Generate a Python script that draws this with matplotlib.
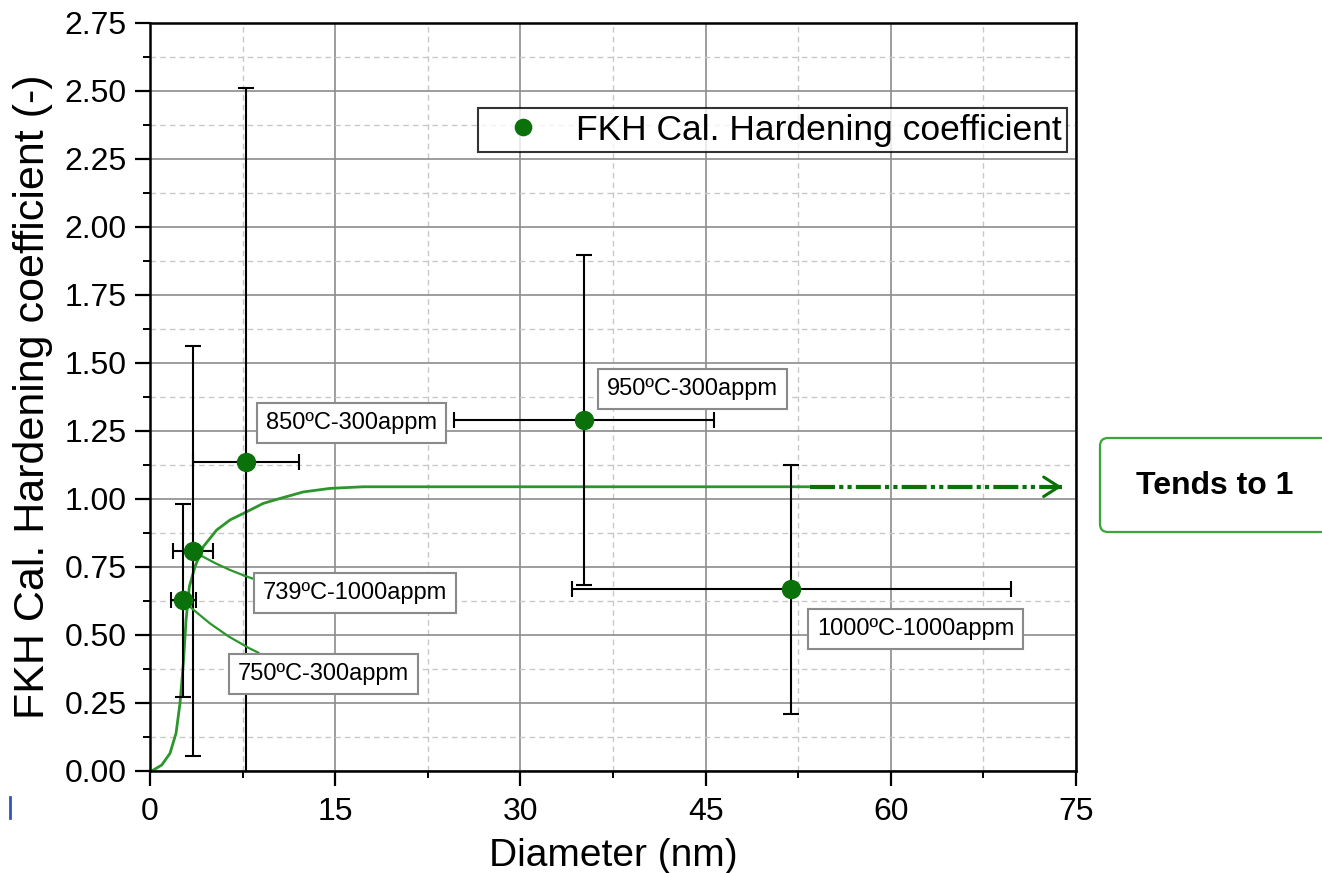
import matplotlib
matplotlib.use("Agg")
import matplotlib.pyplot as plt
from matplotlib.patches import FancyBboxPatch
from matplotlib.lines import Line2D

plt.rcParams['font.family'] = ['Liberation Sans', 'DejaVu Sans']

# Measured samples
sample_labels = ["750ºC-300appm", "739ºC-1000appm", "850ºC-300appm",
                 "950ºC-300appm", "1000ºC-1000appm"]
diameter = [2.70, 3.48, 7.78, 35.15, 51.95]
diameter_err = [1.03, 1.62, 4.29, 10.53, 17.8]
hardening = [0.627, 0.809, 1.137, 1.290, 0.668]
hardening_err = [0.355, 0.755, 1.374, 0.607, 0.458]

# Fitted trend of the hardening coefficient
fit_d = [0.14, 0.95, 1.62, 2.11, 2.43, 2.70, 2.92, 3.19, 3.64, 4.32, 5.40,
         6.48, 7.83, 9.18, 10.53, 12.42, 14.58, 17.28, 53.45]
fit_k = [0.0, 0.022, 0.065, 0.139, 0.249, 0.396, 0.555, 0.678, 0.751, 0.825,
         0.886, 0.923, 0.953, 0.984, 1.002, 1.026, 1.039, 1.045, 1.045]
trend_d = [53.45, 73.85]
trend_k = [1.045, 1.045]

x_ticks = [0, 15, 30, 45, 60, 75]
y_ticks = [0.00, 0.25, 0.50, 0.75, 1.00, 1.25, 1.50, 1.75, 2.00, 2.25, 2.50, 2.75]

GREEN = '#0b720b'
CURVE = '#2c962c'

fig = plt.figure(figsize=(13.22, 8.73), dpi=100)
ax = fig.add_axes([150 / 1322, 1 - 771 / 873, 926 / 1322, 748 / 873])

ax.set_xlim(0, 75)
ax.set_ylim(0, 2.75)
ax.set_xticks(x_ticks)
ax.set_xticks([7.5 + 15 * i for i in range(5)], minor=True)
ax.set_yticks(y_ticks)
ax.set_yticks([0.125 + 0.25 * i for i in range(11)], minor=True)
ax.set_xticklabels([str(t) for t in x_ticks])
ax.set_yticklabels([f"{t:.2f}" for t in y_ticks])

ax.grid(which='major', color='#8c8c8c', lw=1.2, ls='-', zorder=0)
ax.grid(which='minor', color='#c8c8c8', lw=1.0, ls=(0, (4, 3)), zorder=0)
ax.set_axisbelow(True)

for s in ax.spines.values():
    s.set_linewidth(1.8)
    s.set_color('black')
    s.set_zorder(6)

ax.tick_params(which='major', direction='out', length=11, width=1.6,
               labelsize=23, pad=6, top=False, right=False)
ax.tick_params(which='minor', direction='out', length=5, width=1.4,
               top=False, right=False)
ax.tick_params(axis='x', which='major', pad=8)

ax.set_xlabel("Diameter (nm)", fontsize=28, labelpad=8)
ax.set_ylabel("FKH Cal. Hardening coefficient (-)", fontsize=31, labelpad=8)

# Fitted curve and its asymptote
ax.plot(fit_d, fit_k, color=CURVE, lw=2.0, zorder=2, solid_capstyle='butt')
ax.plot(trend_d, trend_k, color=GREEN, lw=3.0, zorder=2,
        dashes=(6.0, 1.0, 1.0, 1.0, 1.0, 1.0))
ax.annotate('', xy=(trend_d[1], trend_k[1]), xytext=(trend_d[1] - 1.0, trend_k[1]),
            arrowprops=dict(arrowstyle='->,head_length=1.1,head_width=0.7',
                            color=GREEN, lw=2.2, mutation_scale=10,
                            shrinkA=0, shrinkB=0), zorder=2)

# Error bars and measured points
ax.errorbar(diameter, hardening, xerr=diameter_err, yerr=hardening_err,
            fmt='none', ecolor='black', elinewidth=1.5, capsize=5.5,
            capthick=1.5, zorder=3)
ax.plot(diameter, hardening, 'o', color=GREEN, ms=13, mec=GREEN, zorder=5,
        label="FKH Cal. Hardening coefficient")

# Sample annotations
label_pos = [(14.05, 0.358), (16.6, 0.656), (16.32, 1.278), (43.94, 1.403), (62.0, 0.523)]
connect = [True, True, False, False, False]
box = dict(boxstyle='square,pad=0.38', fc='white', ec='#8a8a8a', lw=1.5)
for lab, d, k, pos, c in zip(sample_labels, diameter, hardening, label_pos, connect):
    if c:
        ax.annotate(lab, xy=(d, k), xytext=pos, ha='center', va='center',
                    fontsize=17, bbox=box, zorder=4,
                    arrowprops=dict(arrowstyle='-', color=CURVE, lw=1.6,
                                    shrinkA=0, shrinkB=0,
                                    connectionstyle='arc3,rad=-0.15'))
    else:
        ax.text(pos[0], pos[1], lab, ha='center', va='center', fontsize=17,
                bbox=box, zorder=4)

leg = ax.legend(loc='upper right', bbox_to_anchor=(0.990, 0.886),
                borderaxespad=0, fontsize=25.5, frameon=True, fancybox=False,
                borderpad=0.15, handlelength=2.24, handletextpad=0.38,
                markerscale=0.9)
leg.get_frame().set_edgecolor('black')
leg.get_frame().set_linewidth(1.5)
leg.set_zorder(7)

# Side note box
note = FancyBboxPatch((11.0, 3.41), 3.0, 0.94,
                      boxstyle='round,pad=0,rounding_size=0.08',
                      transform=fig.dpi_scale_trans, fc='white',
                      ec='#3aa63a', lw=1.6)
fig.patches.append(note)
fig.text(12.15, 3.87, "Tends to 1", transform=fig.dpi_scale_trans,
         ha='center', va='center', fontsize=23, fontweight='bold')

fig.add_artist(Line2D([0.095, 0.095], [0.55, 0.76], transform=fig.dpi_scale_trans,
                      color='#3355bb', lw=2))

fig.savefig("out.png", dpi=100)
